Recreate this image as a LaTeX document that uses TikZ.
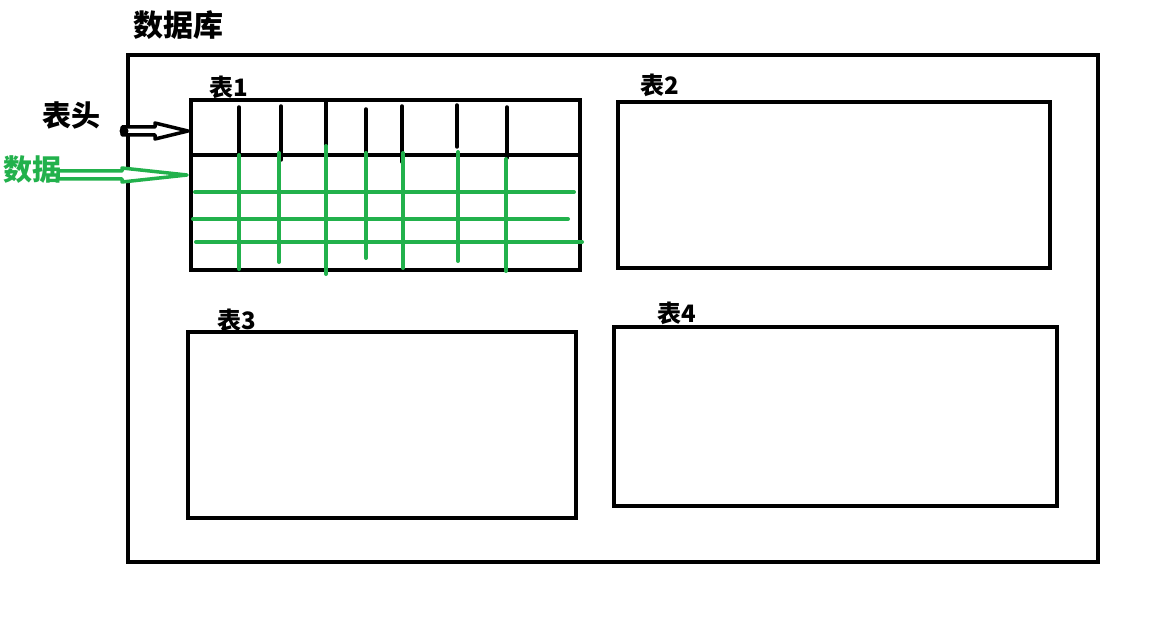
\documentclass[tikz,border=0pt]{standalone}
\usepackage{fontspec}
\setmainfont{Noto Sans CJK SC}
\definecolor{pgreen}{RGB}{34,177,76}
\begin{document}
\begin{tikzpicture}[x=1pt,y=-1pt,
  box/.style={draw=black,line width=4pt,inner sep=0pt,minimum width=#1},
  lbl/.style={inner sep=0pt,font=\bfseries\fontsize{24}{24}\selectfont},
  biglbl/.style={inner sep=0pt,font=\bfseries\fontsize{29}{29}\selectfont},
  hdr/.style={draw=black,line width=3.5pt,line cap=round},
  dat/.style={draw=pgreen,line width=4pt,line cap=round},
  hollow/.style={line width=3.5pt,line join=round,fill=white}]
\useasboundingbox (0,0) rectangle (1165,623);
% database
\node[box=970pt,minimum height=507pt] (db) at (613,308.5) {};
\node[inner sep=0pt,font=\bfseries\fontsize{30}{30}\selectfont] (dbl) at (178,25) {数据库};
% tables
\node[box=389pt,minimum height=170pt] (t1) at (385.5,185) {};
\node[box=432pt,minimum height=166pt] (t2) at (834,185) {};
\node[box=388pt,minimum height=186pt] (t3) at (382,425) {};
\node[box=443pt,minimum height=179pt] (t4) at (835.5,416.5) {};
\node[lbl] (l1) at (229,87) {表1};
\node[lbl] (l2) at (660,85) {表2};
\node[lbl] (l3) at (237,320) {表3};
\node[lbl] (l4) at (677,313) {表4};
% header row line
\coordinate (h0) at (191,155);
\coordinate (h1) at (580,155);
\draw[black,line width=4pt] (h0) -- (h1);
% header column marks
\draw[hdr] (239,107) -- (239,155);
\draw[hdr] (281,106) -- (281,160);
\draw[hdr] (326,102) -- (326,145);
\draw[hdr] (366,109) -- (366,155);
\draw[hdr] (402,106) -- (402,162);
\draw[hdr] (457,105) -- (457,147);
\draw[hdr] (507,107) -- (507,158);
% data grid
\draw[dat] (239,155) -- (239,269);
\draw[dat] (279,153) -- (279,262);
\draw[dat] (326,146) -- (326,274);
\draw[dat] (366,153) -- (366,258);
\draw[dat] (403,153) -- (403,268);
\draw[dat] (458,152) -- (458,261);
\draw[dat] (506,159) -- (506,271);
\draw[dat] (195,192) -- (574,192);
\draw[dat] (193,219) -- (568,219);
\draw[dat] (196,242) -- (582,242);
% labels with arrows
\node[biglbl] (hl) at (71,115) {表头};
\node[biglbl,text=pgreen] (dl) at (33,170) {数据};
\draw[hollow,draw=black] (122,127) -- (155,127) -- (155,123) -- (188,131) -- (155,139) -- (155,135) -- (122,135) -- cycle;
\fill[black] (124,131) circle (4.5pt);
\draw[hollow,draw=pgreen] (58,171) -- (122,171) -- (122,168) -- (187,175) -- (122,182) -- (122,179) -- (58,179) -- cycle;
\end{tikzpicture}
\end{document}
